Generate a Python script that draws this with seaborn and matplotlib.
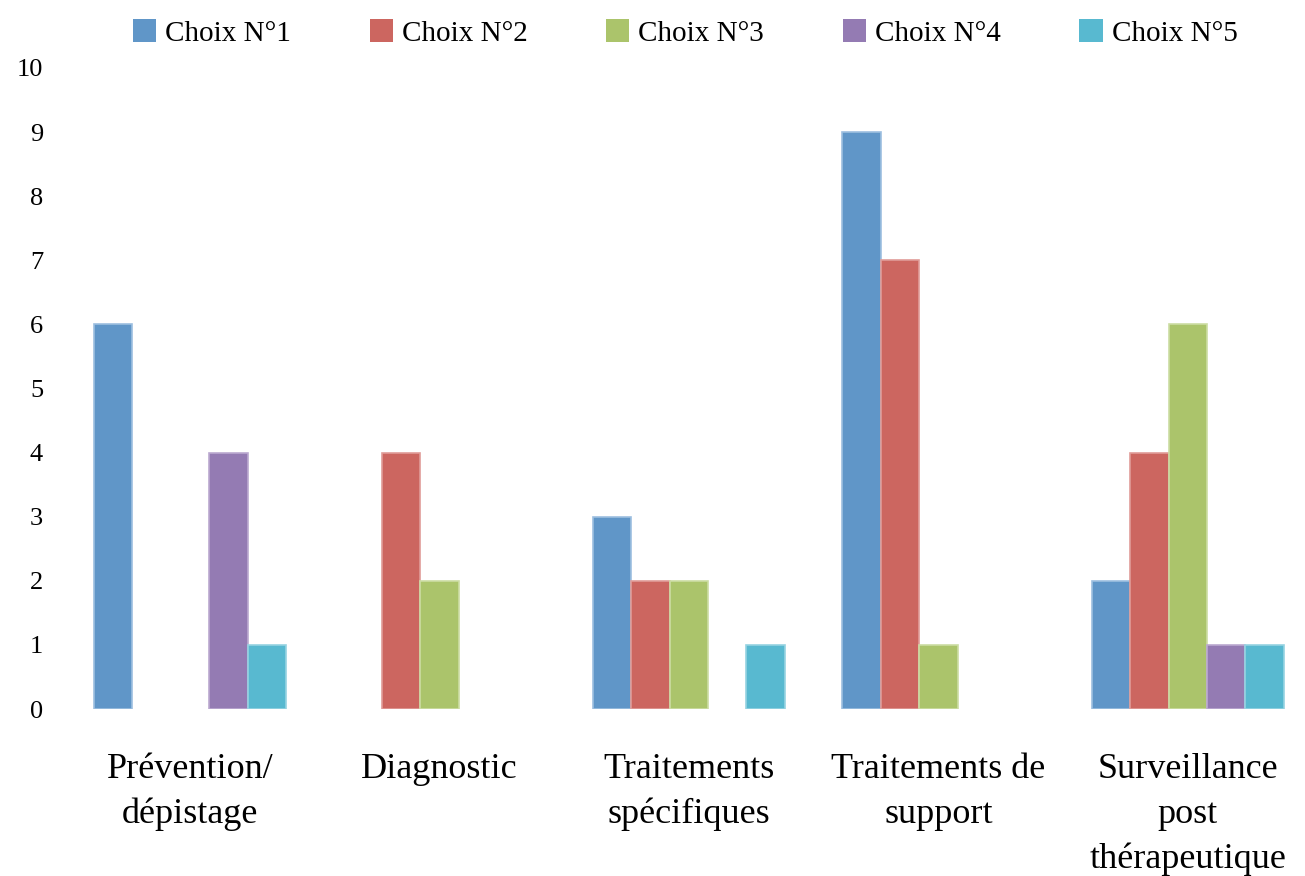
import matplotlib
matplotlib.use("Agg")
import matplotlib.pyplot as plt
import seaborn as sns
import pandas as pd
from matplotlib.patches import Patch

categories = ["Prévention/\ndépistage", "Diagnostic", "Traitements\nspécifiques",
              "Traitements de\nsupport", "Surveillance\npost\nthérapeutique"]
series = ["Choix N°1", "Choix N°2", "Choix N°3", "Choix N°4", "Choix N°5"]
choix1 = [6, 0, 3, 9, 2]
choix2 = [0, 4, 2, 7, 4]
choix3 = [0, 2, 2, 1, 6]
choix4 = [4, 0, 0, 0, 1]
choix5 = [1, 0, 1, 0, 1]
colors = ["#6096C8", "#CC6660", "#ABC46B", "#947BB3", "#58B9D0"]
edges = ["#9DBFE0", "#E09C98", "#CCDDA3", "#BBA9D0", "#96D3E2"]

values = [choix1, choix2, choix3, choix4, choix5]
rows = []
for s, vals in zip(series, values):
    for c, v in zip(categories, vals):
        rows.append({"cat": c, "serie": s, "val": v})
df = pd.DataFrame(rows)

sns.set_theme(style="white")
plt.rcParams['font.family'] = ['Liberation Serif', 'DejaVu Serif']
plt.rcParams['text.color'] = 'black'

fig = plt.figure(figsize=(13.05, 8.76), dpi=100)
ax = fig.add_axes([0.05, 0.1906, 0.95, 0.7318])
sns.barplot(data=df, x="cat", y="val", hue="serie", order=categories,
            hue_order=series, palette=colors, width=0.77, ax=ax,
            legend=False, saturation=1)
for i, cont in enumerate(ax.containers):
    for bar in cont:
        if bar.get_height() == 0:
            bar.set_visible(False)
        bar.set_edgecolor(edges[i])
        bar.set_linewidth(1.2)

ax.set_ylim(0, 10)
ax.set_xlim(-0.5, 4.47)
ax.set_yticks(range(0, 11))
ax.set_xlabel("")
ax.set_ylabel("")
for sp in ax.spines.values():
    sp.set_visible(False)
ax.tick_params(axis="y", length=0, labelsize=19, pad=16, colors="black")
ax.tick_params(axis="x", length=0, labelsize=26, pad=32, colors="black")
for lab in ax.get_xticklabels():
    lab.set_linespacing(1.45)
    lab.set_verticalalignment("top")

handles = [Patch(facecolor=c, edgecolor="none") for c in colors]
leg = fig.legend(handles, series, loc="upper center", bbox_to_anchor=(0.525, 1.008),
                 ncol=5, frameon=False, fontsize=21, handlelength=0.8, handleheight=0.8,
                 handletextpad=0.3, columnspacing=2.7)
for t in leg.get_texts():
    t.set_color("black")

fig.savefig("out.png", dpi=100, facecolor="white")
